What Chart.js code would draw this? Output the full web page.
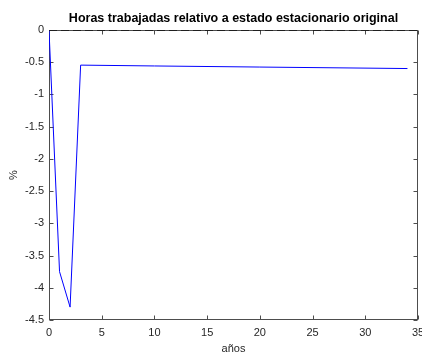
<!DOCTYPE html>
<html>
<head>
<meta charset="utf-8">
<title>Horas trabajadas</title>
<script src="https://cdn.jsdelivr.net/npm/chart.js@4.4.0/dist/chart.umd.min.js"></script>
<style>
  html, body { margin: 0; padding: 0; background: #fff; }
</style>
</head>
<body>
<canvas id="myChart" width="422" height="358"></canvas>
<script>
'use strict';

// hours worked, % deviation from the original steady state
var years = [0, 1, 2, 3, 10, 20, 34];
var hours = [0, -3.75, -4.3, -0.545, -0.558, -0.575, -0.598];

// old steady state reference (dashed)
var steadyYears = [0, 35];
var steadyLevel = [0, 0];

var xTicks = [0, 5, 10, 15, 20, 25, 30, 35];
var yTicks = [0, -0.5, -1, -1.5, -2, -2.5, -3, -3.5, -4, -4.5];
var yTickLabels = ['0', '-0.5', '-1', '-1.5', '-2', '-2.5', '-3', '-3.5', '-4', '-4.5'];

var axisColor = '#262626';
var boxColor = '#4d4d4d';

function toPoints(xs, ys) {
  var pts = [];
  for (var i = 0; i < xs.length; i++) {
    pts.push({ x: xs[i], y: ys[i] });
  }
  return pts;
}

// box around the axes plus inward tick marks on all four sides
var boxPlugin = {
  id: 'axesBox',
  beforeDatasetsDraw: function(chart) {
    var ctx = chart.ctx;
    var a = chart.chartArea;
    var xs = chart.scales.x, ys = chart.scales.y;
    var l = Math.round(a.left) + 0.5, r = Math.round(a.right) - 0.5;
    var t = Math.round(a.top) + 0.5, b = Math.round(a.bottom) - 0.5;
    ctx.save();
    ctx.strokeStyle = boxColor;
    ctx.lineWidth = 1;
    ctx.strokeRect(l, t, r - l, b - t);
    ctx.beginPath();
    for (var i = 0; i < xTicks.length; i++) {
      var px = Math.round(xs.getPixelForValue(xTicks[i])) + 0.5;
      ctx.moveTo(px, b); ctx.lineTo(px, b - 4);
      ctx.moveTo(px, t); ctx.lineTo(px, t + 4);
    }
    for (var j = 0; j < yTicks.length; j++) {
      var py = Math.round(ys.getPixelForValue(yTicks[j])) + 0.5;
      ctx.moveTo(l, py); ctx.lineTo(l + 4, py);
      ctx.moveTo(r, py); ctx.lineTo(r - 4, py);
    }
    ctx.stroke();
    ctx.restore();
  }
};

var ctx = document.getElementById('myChart').getContext('2d');
new Chart(ctx, {
  type: 'line',
  data: {
    datasets: [{
      data: toPoints(steadyYears, steadyLevel),
      borderColor: '#111111',
      borderWidth: 1.5,
      borderDash: [8, 4],
      pointRadius: 0,
      fill: false
    }, {
      data: toPoints(years, hours),
      borderColor: '#0000ff',
      borderWidth: 1,
      pointRadius: 0,
      tension: 0,
      fill: false
    }]
  },
  plugins: [boxPlugin],
  options: {
    responsive: false,
    animation: false,
    events: [],
    layout: { padding: { left: 0, right: 4, top: 0, bottom: 0 } },
    plugins: {
      legend: { display: false },
      tooltip: { enabled: false },
      title: {
        display: true,
        fullSize: false,
        text: 'Horas trabajadas relativo a estado estacionario original',
        color: '#000000',
        font: { family: 'Liberation Sans, Arial, sans-serif', size: 12.5, weight: 'bold' },
        padding: { top: 11, bottom: 4 }
      }
    },
    scales: {
      x: {
        type: 'linear',
        min: 0,
        max: 35,
        grid: { display: false, drawTicks: false },
        border: { display: false },
        afterBuildTicks: function(scale) {
          scale.ticks = xTicks.map(function(v) { return { value: v }; });
        },
        afterFit: function(scale) {
          scale.height = 38;
          scale.paddingLeft = 0;
          scale.paddingRight = 0;
        },
        ticks: {
          color: axisColor,
          padding: 6,
          maxRotation: 0,
          font: { family: 'Liberation Sans, Arial, sans-serif', size: 11 }
        },
        title: {
          display: true,
          text: 'años',
          color: axisColor,
          font: { family: 'Liberation Sans, Arial, sans-serif', size: 11 },
          padding: { top: 0, bottom: 2.4 }
        }
      },
      y: {
        type: 'linear',
        min: -4.5,
        max: 0,
        grid: { display: false, drawTicks: false },
        border: { display: false },
        afterBuildTicks: function(scale) {
          scale.ticks = yTicks.map(function(v) { return { value: v }; });
        },
        afterFit: function(scale) {
          scale.width = 49;
          scale.paddingTop = 0;
          scale.paddingBottom = 0;
        },
        ticks: {
          color: axisColor,
          padding: 5,
          font: { family: 'Liberation Sans, Arial, sans-serif', size: 11 },
          callback: function(value) {
            var k = yTicks.indexOf(value);
            return k >= 0 ? yTickLabels[k] : '';
          }
        },
        title: {
          display: true,
          text: '%',
          color: axisColor,
          font: { family: 'Liberation Sans, Arial, sans-serif', size: 11 },
          padding: { top: 7, bottom: 0 }
        }
      }
    }
  }
});
</script>
</body>
</html>
